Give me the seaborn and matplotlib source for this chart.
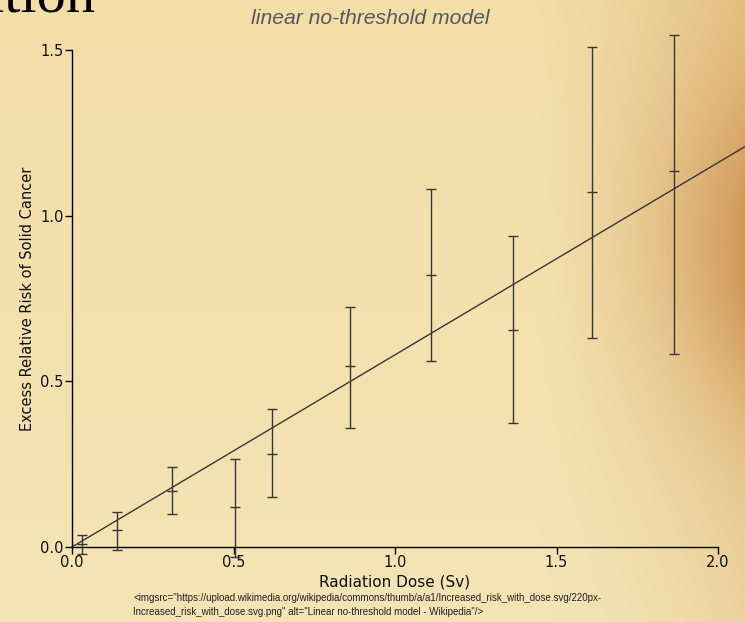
import numpy as np
import pandas as pd
import matplotlib
matplotlib.use("Agg")
import matplotlib.pyplot as plt
import seaborn as sns

# values
dose = [0.03, 0.14, 0.31, 0.505, 0.62, 0.86, 1.11, 1.365, 1.61, 1.865]
err_mid = [0.01, 0.05, 0.17, 0.12, 0.28, 0.545, 0.82, 0.655, 1.07, 1.135]
err_low = [-0.02, -0.01, 0.10, -0.03, 0.15, 0.36, 0.56, 0.375, 0.63, 0.583]
err_high = [0.036, 0.106, 0.24, 0.266, 0.415, 0.725, 1.08, 0.94, 1.51, 1.545]
lnt_slope = 0.58
x_ticks = [0.0, 0.5, 1.0, 1.5, 2.0]
y_ticks = [0.0, 0.5, 1.0, 1.5]

df = pd.DataFrame({"dose": dose, "mid": err_mid, "low": err_low, "high": err_high})

sns.set_theme(style="ticks")
plt.rcParams["font.family"] = ["DejaVu Sans"]

fig = plt.figure(figsize=(7.45, 6.22), dpi=100)

# parchment background (smooth tint, darker toward the right edge)
bg = fig.add_axes([0, 0, 1, 1], zorder=-10)
gx = np.linspace(0, 1, 300)[None, :]
gy = np.linspace(0, 1, 250)[:, None]
warm = np.clip((gx - 0.72) / 0.28, 0, 1) ** 1.4 * (0.35 + 0.65 * np.exp(-((gy - 0.4) / 0.3) ** 2))
fade = 0.6 * gy * (1 - warm)
light = np.array([243, 222, 168]) / 255
dark = np.array([208, 152, 86]) / 255
low_tint = np.array([245, 232, 190]) / 255
img = light * (1 - warm[..., None]) + dark * warm[..., None]
img = img * (1 - fade[..., None]) + low_tint * fade[..., None]
bg.imshow(img, aspect="auto", extent=[0, 1, 0, 1], origin="upper")
bg.set_axis_off()

ax = fig.add_axes([72 / 745, 1 - 547 / 622, 646 / 745, 497 / 622])
ax.set_facecolor("none")

col = "#363636"
ax.errorbar(df["dose"], df["mid"],
            yerr=[df["mid"] - df["low"], df["high"] - df["mid"]],
            fmt="none", ecolor=col, elinewidth=1.0, capsize=3.3, capthick=1.0,
            clip_on=False)
sns.scatterplot(data=df, x="dose", y="mid", marker="_", s=45, color=col,
                linewidth=1.0, ax=ax, clip_on=False, zorder=3)

line_x = np.array([0.0, 2.1])
sns.lineplot(x=line_x, y=lnt_slope * line_x, color=col, linewidth=1.0,
             ax=ax, clip_on=False)

ax.set_xlim(0, 2.0)
ax.set_ylim(0, 1.5)
ax.set_xticks(x_ticks)
ax.set_yticks(y_ticks)
ax.set_xticklabels([f"{v:.1f}" for v in x_ticks])
ax.set_yticklabels([f"{v:.1f}" for v in y_ticks])
ax.tick_params(axis="both", direction="out", length=5, width=1, color="black",
               labelsize=10.5, labelcolor="#111111", pad=1)
for s in ["top", "right"]:
    ax.spines[s].set_visible(False)
for s in ["left", "bottom"]:
    ax.spines[s].set_color("black")
    ax.spines[s].set_linewidth(1.0)

ax.set_xlabel("Radiation Dose (Sv)", fontsize=11, color="#111111", labelpad=3)
ax.set_ylabel("Excess Relative Risk of Solid Cancer", fontsize=10.5, color="#111111", labelpad=4)

# slide title, cut by the top-left corner as in the reference
fig.text(96 / 745, 1 - 11 / 622, "Radiation", family="Liberation Serif", fontsize=42,
         color="black", ha="right", va="baseline")
fig.text(0.497, 0.971, "linear no-threshold model", family="Liberation Sans",
         style="italic", fontsize=15.2, color="#545860", ha="center", va="center")

fig.text(133 / 745, 1 - 598 / 622,
         '<imgsrc="https://upload.wikimedia.org/wikipedia/commons/thumb/a/a1/Increased_risk_with_dose.svg/220px-',
         family="Liberation Sans", fontsize=7, color="#222222", ha="left", va="center")
fig.text(133 / 745, 1 - 612 / 622,
         'Increased_risk_with_dose.svg.png" alt="Linear no-threshold model - Wikipedia"/>',
         family="Liberation Sans", fontsize=7, color="#222222", ha="left", va="center")

fig.savefig("out.png", dpi=100)
